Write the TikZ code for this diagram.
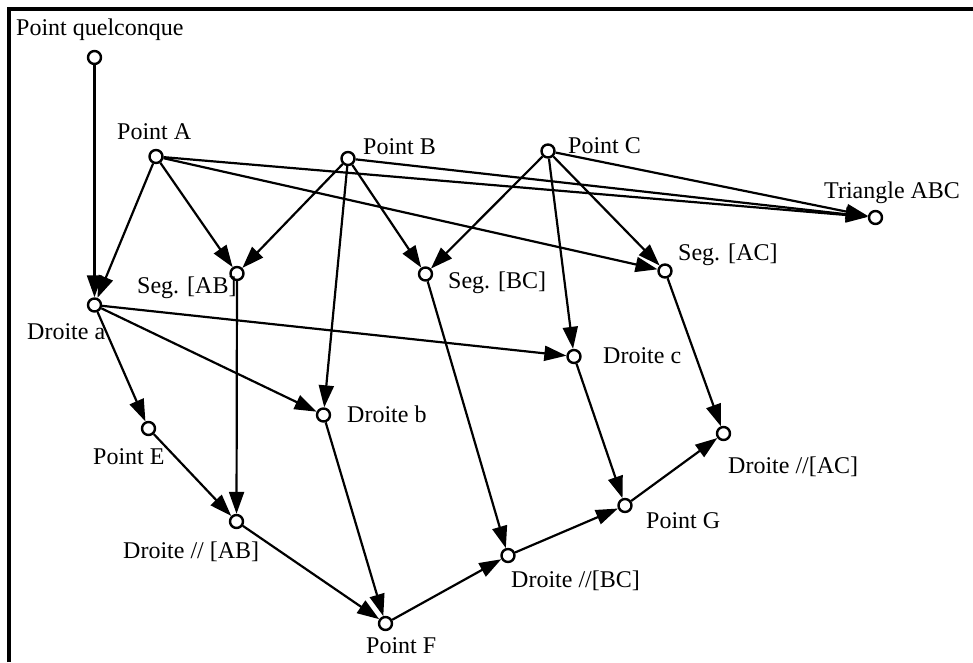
\documentclass[tikz,border=0pt]{standalone}
\usepackage{fontspec}
\setmainfont{Liberation Serif}
\usepackage{tikz}
\usetikzlibrary{arrows.meta}

\begin{document}
\begin{tikzpicture}[
    x=1pt, y=-1pt,
    pt/.style={draw, circle, fill=white, minimum size=13pt, inner sep=0, line width=2.4pt},
    lbl/.style={anchor=base west, inner sep=0, font=\fontsize{24}{28}\selectfont},
    edge/.style={->, line width=2.2pt},
    >={Triangle[length=22pt,width=15pt]}
]
\useasboundingbox (0,0) rectangle (973,662);
\draw[line width=4pt] (9,662) -- (9,9) -- (973,9);

\node[pt] (pq) at (94.5,57.5) {};
\node[pt] (A) at (156,156.5) {};
\node[pt] (B) at (348,158.5) {};
\node[pt] (C) at (548,151) {};
\node[pt] (tri) at (875.5,217.5) {};
\node[pt] (sab) at (237,273.5) {};
\node[pt] (sbc) at (425.5,274) {};
\node[pt] (sac) at (665,271) {};
\node[pt] (da) at (94.5,305) {};
\node[pt] (dc) at (574,356.5) {};
\node[pt] (db) at (323.5,415) {};
\node[pt] (E) at (148.5,428.5) {};
\node[pt] (dac) at (723.5,433.5) {};
\node[pt] (G) at (625,505.5) {};
\node[pt] (dab) at (236.5,521.5) {};
\node[pt] (dbc) at (508,555.5) {};
\node[pt] (F) at (385.5,623.5) {};

\node[lbl] (lpq) at (16,35) {Point quelconque};
\node[lbl] (lA) at (117,139) {Point A};
\node[lbl] (lB) at (363,154) {Point B};
\node[lbl] (lC) at (568,153) {Point C};
\node[lbl] (ltri) at (824,198) {Triangle ABC};
\node[lbl] (lsab) at (137,293) {Seg. [AB]};
\node[lbl] (lsbc) at (448,288) {Seg. [BC]};
\node[lbl] (lsac) at (678,260) {Seg. [AC]};
\node[lbl] (lda) at (27,339) {Droite a};
\node[lbl] (ldc) at (603,363) {Droite c};
\node[lbl] (ldb) at (347,422) {Droite b};
\node[lbl] (lE) at (93,464) {Point E};
\node[lbl] (ldac) at (728,473) {Droite //[AC]};
\node[lbl] (lG) at (646,528) {Point G};
\node[lbl] (ldab) at (123,558) {Droite // [AB]};
\node[lbl] (ldbc) at (511,587) {Droite //[BC]};
\node[lbl] (lF) at (366,653) {Point F};

\draw[edge] (pq) -- (da);
\draw[edge] (A) -- (da);
\draw[edge] (A) -- (sab);
\draw[edge] (A) -- (sac);
\draw[edge] (A) -- (tri);
\draw[edge] (B) -- (tri);
\draw[edge] (C) -- (tri);
\draw[edge] (B) -- (sab);
\draw[edge] (B) -- (sbc);
\draw[edge] (B) -- (db);
\draw[edge] (C) -- (sbc);
\draw[edge] (C) -- (sac);
\draw[edge] (C) -- (dc);
\draw[edge] (sab) -- (dab);
\draw[edge] (sbc) -- (dbc);
\draw[edge] (sac) -- (dac);
\draw[edge] (da) -- (E);
\draw[edge] (da) -- (db);
\draw[edge] (da) -- (dc);
\draw[edge] (E) -- (dab);
\draw[edge] (dab) -- (F);
\draw[edge] (db) -- (F);
\draw[edge] (F) -- (dbc);
\draw[edge] (dbc) -- (G);
\draw[edge] (dc) -- (G);
\draw[edge] (G) -- (dac);
\end{tikzpicture}
\end{document}
